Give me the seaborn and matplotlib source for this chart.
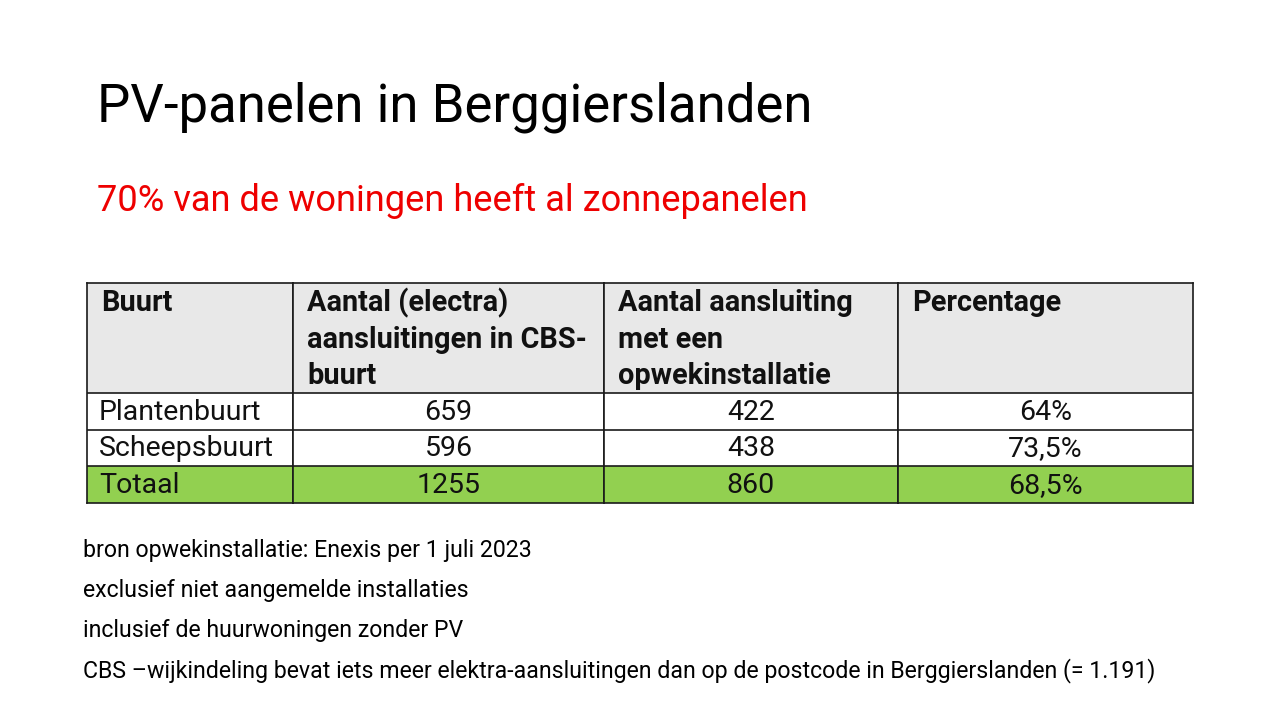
import matplotlib
matplotlib.use("Agg")
import matplotlib.pyplot as plt
import numpy as np
import pandas as pd
import seaborn as sns
from matplotlib.colors import ListedColormap

sns.set_style("white")
plt.rcParams["font.family"] = ["Roboto", "DejaVu Sans"]

# --- data ---------------------------------------------------------------
title = "PV-panelen in Berggierslanden"
subtitle = "70% van de woningen heeft al zonnepanelen"
headers = [
    ["Buurt"],
    ["Aantal (electra)", "aansluitingen in CBS-", "buurt"],
    ["Aantal aansluiting", "met een", "opwekinstallatie"],
    ["Percentage"],
]
buurten = ["Plantenbuurt", "Scheepsbuurt", "Totaal"]
aansluitingen = ["659", "596", "1255"]
met_pv = ["422", "438", "860"]
percentage = ["64%", "73,5%", "68,5%"]
notes = [
    "bron opwekinstallatie: Enexis per 1 juli 2023",
    "exclusief niet aangemelde installaties",
    "inclusief de huurwoningen zonder PV",
    "CBS \u2013wijkindeling bevat iets meer elektra-aansluitingen dan op de postcode in Berggierslanden (= 1.191)",
]

W, H = 1280, 720
fig = plt.figure(figsize=(W / 100, H / 100), dpi=100)
fig.patch.set_facecolor("white")


def px(x, y):
    return x / W, 1 - y / H


fig.text(*px(97, 107), title, fontsize=38, va="center", ha="left", color="black")
fig.text(*px(97, 201), subtitle, fontsize=26.1, va="center", ha="left", color="#EE0000")

# --- table as one heatmap per column ------------------------------------
col_edges = [87, 293, 604, 898, 1193]
top, bottom = 283, 503
# header spans three unit rows, then one unit row per buurt
row_kind = [0, 0, 0, 1, 1, 2]
cmap = ListedColormap(["#E8E8E8", "#FFFFFF", "#92D050"])
columns = [buurten, aansluitingen, met_pv, percentage]

for c in range(4):
    x0, x1 = col_edges[c], col_edges[c + 1]
    ax = fig.add_axes([x0 / W, 1 - bottom / H, (x1 - x0) / W, (bottom - top) / H])
    grid = pd.DataFrame({"v": row_kind})
    sns.heatmap(grid, ax=ax, cmap=cmap, vmin=-0.5, vmax=2.5, cbar=False,
                linewidths=0, xticklabels=False, yticklabels=False)
    for y in (3, 4, 5):
        ax.axhline(y, color="#1a1a1a", lw=1.2)
    for s in ax.spines.values():
        s.set_visible(True)
        s.set_color("#1a1a1a")
        s.set_linewidth(1.2)
    ax.set_xlabel("")
    ax.set_ylabel("")
    # header text
    pad = 14 / (x1 - x0)
    for i, line in enumerate(headers[c]):
        ax.text(pad, 0.55 + i, line, fontsize=20.8, fontweight="bold",
                ha="left", va="center", color="#111111")
    # body text
    for r, val in enumerate(columns[c]):
        if c == 0:
            ax.text(12 / (x1 - x0), 3.52 + r, val, fontsize=20.5, ha="left",
                    va="center", color="#111111")
        else:
            ax.text(0.5, 3.52 + r, val, fontsize=20.5, ha="center",
                    va="center", color="#111111")

# --- footnotes ------------------------------------------------------------
for i, note in enumerate(notes):
    fig.text(*px(83, 551 + i * 39.7), note, fontsize=16.65, va="center", ha="left",
             color="black")

fig.savefig("out.png", dpi=100, facecolor="white")
